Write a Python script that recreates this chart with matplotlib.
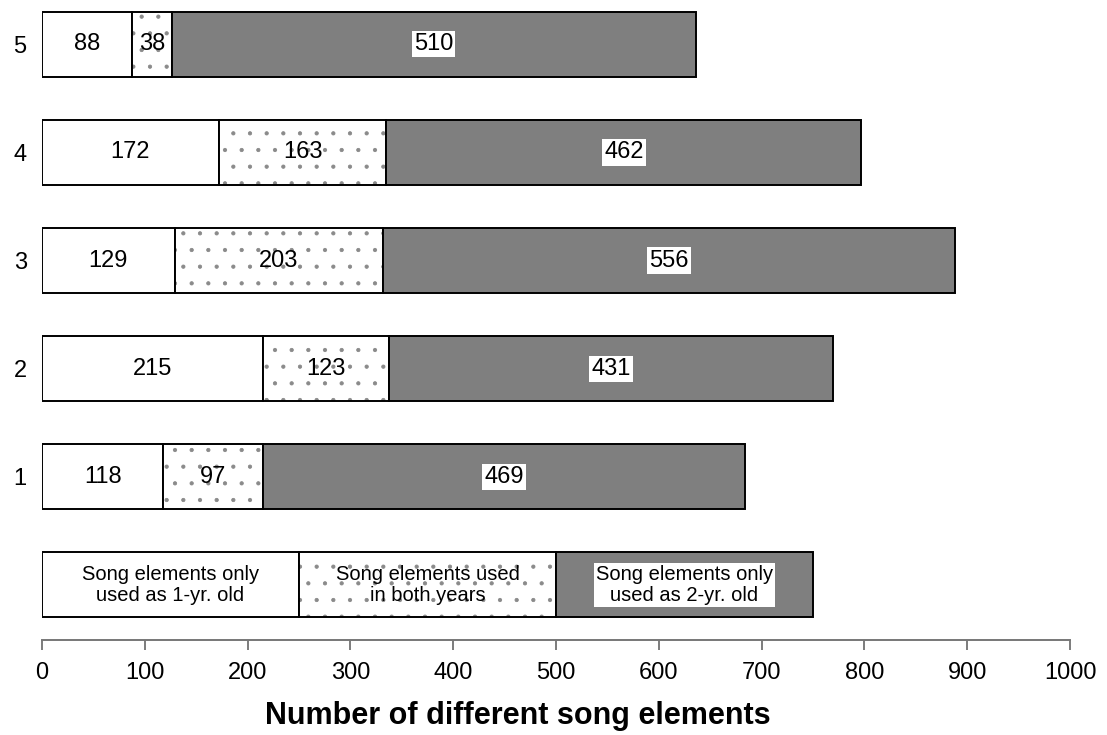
import matplotlib
matplotlib.use("Agg")
import matplotlib.pyplot as plt

plt.rcParams['font.family'] = ['Liberation Sans', 'DejaVu Sans']
plt.rcParams['hatch.linewidth'] = 0.6

groups = ["1", "2", "3", "4", "5"]
only_1yr = [118, 215, 129, 172, 88]
both_years = [97, 123, 203, 163, 38]
only_2yr = [469, 431, 556, 462, 510]

legend_labels = ["Song elements only\nused as 1-yr. old",
                 "Song elements used\nin both years",
                 "Song elements only\nused as 2-yr. old"]
legend_width = 250

xticks = list(range(0, 1001, 100))

fig = plt.figure(figsize=(11.07, 7.35), dpi=100)
ax = fig.add_axes([42/1107, 95/735, 1028/1107, 1 - 95/735])

h = 0.6
dark = '#7f7f7f'
ypos = [1, 2, 3, 4, 5]

def draw_row(y, vals, texts, fs):
    left = 0
    for i, (v, t) in enumerate(zip(vals, texts)):
        if i == 0:
            ax.barh(y, v, left=left, height=h, color='white', linewidth=0)
        elif i == 1:
            ax.barh(y, v, left=left, height=h, facecolor='white',
                    edgecolor='#8a8a8a', hatch='.', linewidth=0)
        else:
            ax.barh(y, v, left=left, height=h, color=dark, linewidth=0)
        ax.barh(y, v, left=left, height=h, fill=False, edgecolor='black',
                linewidth=1.4)
        cx = left + v / 2
        bbox = None
        if i == 2:
            bbox = dict(facecolor='white', edgecolor='none', pad=1.5)
        ax.text(cx, y, t, ha='center', va='center', fontsize=fs, bbox=bbox,
                linespacing=1.1)
        left += v

for y, a, b, c in zip(ypos, only_1yr, both_years, only_2yr):
    draw_row(y, [a, b, c], [str(a), str(b), str(c)], 17)

draw_row(0, [legend_width] * 3, legend_labels, 14.5)

ax.set_xlim(0, 1000)
ax.set_ylim(-0.51, 5.41)
ax.set_yticks(ypos)
ax.set_yticklabels(groups, fontsize=17)
ax.tick_params(axis='y', length=0, pad=11)
ax.set_xticks(xticks)
ax.set_xticklabels([str(x) for x in xticks], fontsize=17)
ax.tick_params(axis='x', length=7, width=1.2, color='#666666', pad=9, direction='out')
for s in ['top', 'right', 'left']:
    ax.spines[s].set_visible(False)
ax.spines['bottom'].set_color('#777777')
ax.spines['bottom'].set_linewidth(1.4)
fig.text(518/1107, (735-716)/735, "Number of different song elements",
         fontsize=22, fontweight='bold', ha='center', va='center')

fig.savefig("out.png", dpi=100)
